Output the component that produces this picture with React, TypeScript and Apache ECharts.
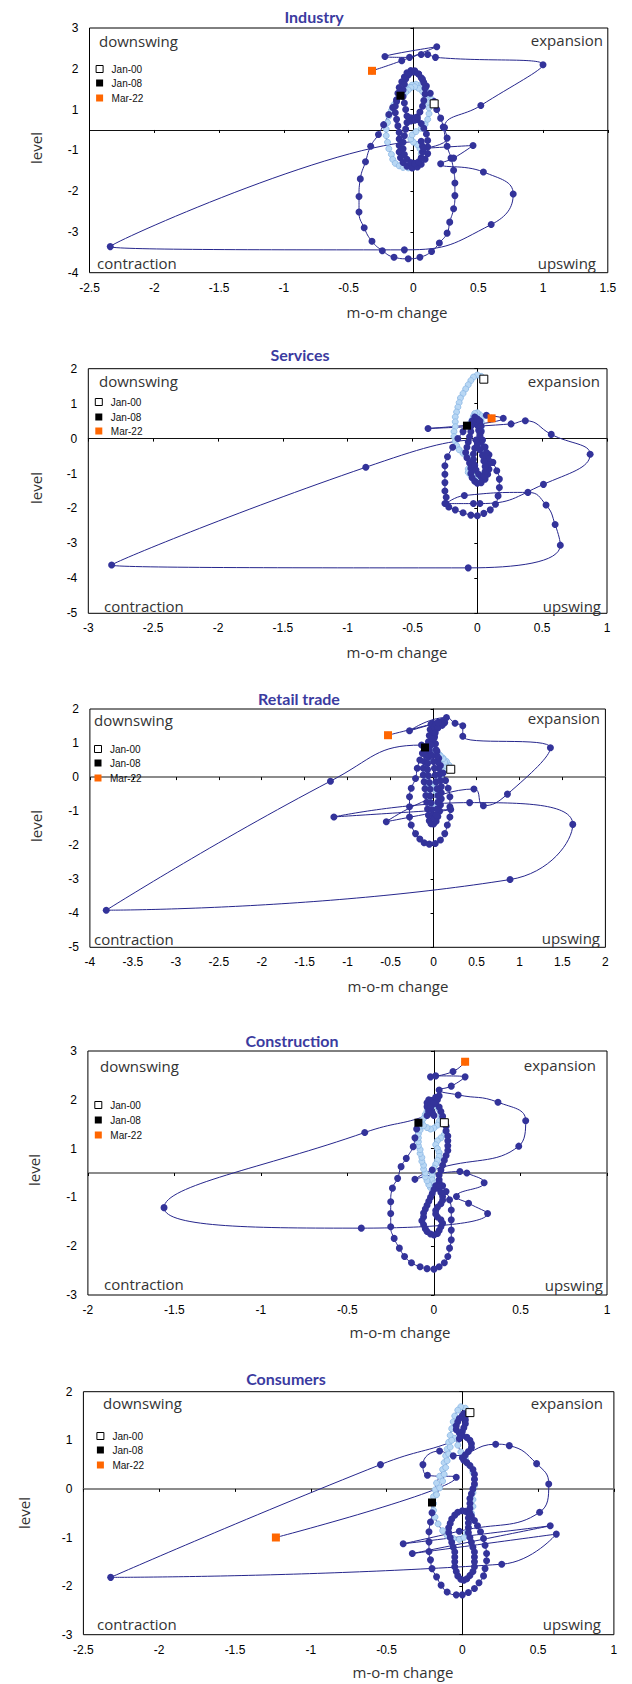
import React, { useEffect, useRef } from 'react';
import * as echarts from 'echarts';

// ---------- DATA (m-o-m change, level) ----------
// Industry
const indLight: number[][] = [
  [0.16,0.64],[0.14,0.75],[0.12,0.86],[0.10,0.96],[0.08,1.04],[0.05,1.10],[0.02,1.12],[-0.01,1.10],[-0.04,1.04],[-0.07,0.96],
  [-0.10,0.86],[-0.13,0.74],[-0.15,0.62],[-0.17,0.48],[-0.19,0.34],[-0.20,0.18],[-0.21,0.02],[-0.21,-0.14],[-0.20,-0.30],[-0.19,-0.46],
  [-0.17,-0.60],[-0.16,-0.72],[-0.14,-0.82],[-0.11,-0.88],[-0.08,-0.92],[-0.04,-0.93],[0.00,-0.92],[0.03,-0.88],[0.05,-0.80],[0.06,-0.70],
  [0.06,-0.58],[0.05,-0.46],[0.03,-0.36],[0.00,-0.30],[-0.02,-0.22],[-0.01,-0.12],[0.02,-0.04],[0.06,0.04],[0.09,0.14],[0.11,0.26],
  [0.12,0.40],[0.12,0.54],[0.11,0.68],[0.09,0.82],[0.07,0.94],[0.04,1.02],[0.01,1.06],[-0.02,1.04],[-0.04,0.98],[-0.06,0.92],[-0.08,0.88]
];
const indDark: number[][] = [
  [-0.10,0.84],[-0.13,0.70],[-0.16,0.55],[-0.19,0.38],[-0.23,0.13],[-0.27,-0.11],[-0.33,-0.40],[-0.37,-0.78],[-0.41,-1.20],[-0.42,-1.63],
  [-0.42,-2.01],[-0.38,-2.40],[-0.32,-2.73],[-0.24,-2.96],[-0.15,-3.12],[-0.04,-3.16],[0.05,-3.12],[0.14,-2.98],[0.20,-2.77],[0.26,-2.53],
  [0.28,-2.26],[0.31,-1.93],[0.32,-1.61],[0.32,-1.30],[0.31,-0.99],[0.29,-0.69],[0.26,-0.40],[0.23,0.07],[0.21,0.29],[0.18,0.50],
  [0.16,0.70],[0.13,0.90],[0.10,1.08],[0.07,1.24],[0.04,1.37],[0.01,1.45],[-0.02,1.46],[-0.05,1.40],[-0.07,1.30],[-0.09,1.18],
  [-0.11,1.04],[-0.12,0.90],[-0.13,0.74],[-0.14,0.58],[-0.14,0.42],[-0.13,0.26],[-0.12,0.10],[-0.11,-0.06],[-0.11,-0.22],[-0.11,-0.38],
  [-0.11,-0.54],[-0.10,-0.68],[-0.08,-0.80],[-0.05,-0.89],[-0.01,-0.93],[0.03,-0.91],[0.06,-0.84],[0.09,-0.72],[0.11,-0.58],[0.11,-0.42],
  [0.11,-0.26],[0.10,-0.10],[0.08,0.04],[0.06,0.16],[0.03,0.26],[0.01,0.30],[-0.02,0.30],[-0.03,0.26],[-0.02,0.22],[0.01,0.24],
  [0.03,0.32],[0.05,0.44],[0.07,0.58],[0.08,0.72],[0.09,0.88],[0.09,1.02],[0.08,1.16],[0.06,1.28],[0.04,1.37],[0.01,1.42],
  [-0.02,1.41],[-0.04,1.35],[-0.06,1.25],[-0.07,1.12],[-0.08,0.98],[-0.08,0.82],[-0.07,0.66],[-0.06,0.50],[-0.05,0.34],[-0.05,0.18],
  [-0.06,0.02],[-0.07,-0.14],[-0.08,-0.30],[-0.08,-0.46],[-0.07,-0.60],[-0.05,-0.72],[-0.02,-0.80],[0.01,-0.82],[0.04,-0.78],[0.06,-0.68],
  [0.07,-0.54],[0.07,-0.40],[0.06,-0.28],
  [-2.34,-2.86],[-0.07,-2.94],[0.60,-2.32],[0.77,-1.57],[0.54,-1.03],[0.21,-0.83],[0.31,-0.69],[0.46,-0.38],[0.08,-0.45],[0.26,-0.20],
  [0.24,0.06],[0.52,0.60],[1.00,1.60],[0.17,1.78],[0.11,1.85],[0.06,1.85],[-0.03,1.78],[-0.22,1.80],[0.18,2.04],[-0.09,1.70],[-0.32,1.45]
];

// Services
const svcLight: number[][] = [
  [0.05,1.70],[0.03,1.78],[0.00,1.82],[-0.03,1.76],[-0.05,1.66],[-0.07,1.54],[-0.09,1.42],[-0.11,1.29],[-0.13,1.16],[-0.14,1.03],
  [-0.15,0.90],[-0.16,0.76],[-0.17,0.62],[-0.17,0.48],[-0.17,0.34],[-0.18,0.20],[-0.18,0.06],[-0.17,-0.08],[-0.16,-0.20],[-0.14,-0.32],
  [-0.11,-0.42],[-0.08,-0.50],[-0.05,-0.57],[-0.04,-0.66],[-0.05,-0.76],[-0.07,-0.87],[-0.07,-0.97],[-0.05,-1.05],[-0.02,-1.09],[0.01,-1.09],
  [0.04,-1.04],[0.06,-0.95],[0.08,-0.84],[0.08,-0.72],[0.08,-0.60],[0.07,-0.48],[0.06,-0.36],[0.04,-0.24],[0.03,-0.12],[0.02,0.00],
  [0.02,0.12],[0.03,0.24],[0.03,0.36],[0.03,0.48],[0.03,0.58],[0.02,0.68],[0.00,0.74],[-0.02,0.72],[-0.03,0.64],[-0.04,0.54],[-0.05,0.46]
];
const svcDark: number[][] = [
  [-0.08,0.37],[-0.11,0.20],[-0.15,0.00],[-0.19,-0.25],[-0.23,-0.52],[-0.25,-0.78],[-0.25,-1.02],[-0.25,-1.26],[-0.25,-1.50],[-0.24,-1.68],
  [-0.25,-1.86],[-0.22,-1.96],[-0.17,-2.04],[-0.11,-2.12],[-0.05,-2.19],[0.00,-2.21],[0.05,-2.14],[0.10,-2.04],[0.14,-1.88],[0.16,-1.64],
  [0.17,-1.40],[0.17,-1.16],[0.15,-0.92],[0.12,-0.68],[0.09,-0.46],[0.06,-0.24],[0.04,-0.04],[0.02,0.16],[0.01,0.36],[0.00,0.55],
  [-0.02,0.62],[-0.04,0.50],[-0.05,0.35],[-0.05,0.20],[-0.06,0.05],[-0.07,-0.10],[-0.08,-0.25],[-0.09,-0.40],[-0.08,-0.55],[-0.06,-0.70],
  [-0.05,-0.85],[-0.05,-1.00],[-0.04,-1.12],[-0.02,-1.22],[0.00,-1.28],[0.03,-1.26],[0.06,-1.16],[0.08,-1.02],[0.09,-0.88],[0.09,-0.72],
  [0.08,-0.56],[0.07,-0.40],[0.05,-0.24],[0.03,-0.08],[0.02,0.08],[0.01,0.24],[0.00,0.38],[-0.01,0.50],[0.00,0.56],[0.02,0.50],
  [0.03,0.36],[0.03,0.20],[0.02,0.04],[0.00,-0.12],[-0.02,-0.28],[-0.03,-0.44],[-0.03,-0.60],[-0.02,-0.76],[-0.01,-0.90],[0.01,-1.02],
  [0.03,-1.10],[0.05,-1.06],[0.06,-0.94],[0.06,-0.80],[0.05,-0.64],[0.04,-0.48],[0.02,-0.32],[0.00,-0.18],[-0.01,-0.04],
  [-0.86,-0.82],[-2.82,-3.62],[-0.07,-3.70],[0.64,-3.05],[0.60,-2.46],[0.53,-1.90],[0.39,-1.54],[-0.10,-1.63],[-0.24,-1.86],[-0.03,-1.86],
  [0.02,-1.86],[0.51,-1.31],[0.87,-0.45],[0.57,0.12],[0.37,0.51],[0.26,0.42],[-0.38,0.29],[0.20,0.58],[0.07,0.67],[0.11,0.58]
];

// Retail trade
const rtlLight: number[][] = [
  [0.20,0.23],[0.18,0.35],[0.15,0.46],[0.11,0.56],[0.07,0.65],[0.03,0.72],[0.00,0.76],[-0.03,0.72],[-0.05,0.62],[-0.07,0.50],
  [-0.08,0.38],[-0.09,0.26],[-0.09,0.14],[-0.09,0.02],[-0.09,-0.10],[-0.08,-0.22],[-0.08,-0.34],[-0.07,-0.46],[-0.06,-0.58],[-0.05,-0.70],
  [-0.03,-0.80],[0.00,-0.88],[0.03,-0.86],[0.05,-0.78],[0.06,-0.66],[0.05,-0.54],[0.03,-0.44],[0.01,-0.36],[0.00,-0.26],[0.02,-0.16],
  [0.05,-0.06],[0.08,0.04],[0.11,0.14],[0.13,0.24],[0.14,0.34],[0.13,0.44],[0.11,0.54],[0.08,0.62],[0.04,0.70],[0.01,0.78],
  [-0.02,0.84],[-0.05,0.88],[-0.08,0.88]
];
const rtlDark: number[][] = [
  [-0.10,0.87],[-0.13,0.70],[-0.16,0.50],[-0.19,0.26],[-0.21,-0.04],[-0.26,-0.33],[-0.28,-0.58],[-0.28,-0.87],[-0.28,-1.17],[-0.26,-1.41],
  [-0.21,-1.66],[-0.16,-1.82],[-0.11,-1.93],[-0.05,-1.97],[0.02,-1.95],[0.08,-1.85],[0.13,-1.66],[0.16,-1.41],[0.19,-1.17],[0.19,-0.87],
  [0.19,-0.58],[0.17,-0.33],[0.14,-0.10],[0.11,0.12],[0.08,0.34],[0.06,0.55],[0.04,0.76],[0.02,0.98],[0.01,1.20],[0.00,1.42],
  [-0.01,1.58],[-0.03,1.55],[-0.04,1.40],[-0.05,1.22],[-0.06,1.04],[-0.08,0.86],[-0.10,0.66],[-0.11,0.46],[-0.12,0.26],[-0.12,0.06],
  [-0.11,-0.14],[-0.10,-0.34],[-0.09,-0.54],[-0.08,-0.74],[-0.07,-0.94],[-0.06,-1.12],[-0.05,-1.28],[-0.03,-1.37],[0.00,-1.38],[0.03,-1.30],
  [0.05,-1.16],[0.07,-1.00],[0.08,-0.82],[0.09,-0.64],[0.09,-0.46],[0.09,-0.28],[0.08,-0.10],[0.07,0.08],[0.06,0.26],[0.05,0.44],
  [0.04,0.62],[0.03,0.80],[0.02,0.98],[0.01,1.16],[0.00,1.32],[0.01,1.46],[0.03,1.56],[0.06,1.62],[0.10,1.64],[0.13,1.60],
  [0.10,1.52],[0.05,1.44],[0.02,1.30],[-0.01,1.12],[-0.03,0.94],[-0.05,0.76],[-0.06,0.58],[-0.07,0.40],[-0.07,0.22],[-0.06,0.04],
  [-0.05,-0.16],[-0.04,-0.36],[-0.04,-0.56],[-0.03,-0.76],[-0.02,-0.96],[-0.01,-1.12],[0.01,-1.20],[0.03,-1.12],[0.04,-0.94],[0.05,-0.74],
  [0.05,-0.54],[0.04,-0.34],[0.03,-0.14],[0.02,0.06],[0.01,0.26],[0.00,0.46],[-0.02,0.64],[-0.05,0.80],[-0.09,0.90],[-0.14,0.94],
  [-1.20,-0.12],[-3.81,-3.91],[0.89,-3.01],[1.62,-1.39],[0.42,-0.75],[-1.16,-1.17],[0.20,-0.95],[-0.55,-1.31],[0.47,-0.35],[0.58,-0.84],
  [0.86,-0.50],[1.36,0.86],[0.34,1.20],[0.34,1.51],[0.25,1.58],[0.15,1.75],[-0.28,1.36],[0.05,1.60],[-0.53,1.23]
];

// Construction
const conLight: number[][] = [
  [0.06,1.03],[0.07,0.95],[0.07,0.87],[0.06,0.79],[0.04,0.72],[0.02,0.66],[0.01,0.58],[0.02,0.50],[0.03,0.42],[0.03,0.34],
  [0.02,0.26],[0.01,0.18],[0.00,0.10],[-0.01,0.02],[-0.01,-0.06],[-0.01,-0.14],[0.00,-0.22],[0.00,-0.29],[-0.02,-0.30],[-0.03,-0.24],
  [-0.04,-0.16],[-0.05,-0.08],[-0.05,0.00],[-0.06,0.08],[-0.06,0.16],[-0.07,0.24],[-0.07,0.32],[-0.08,0.40],[-0.08,0.48],[-0.09,0.56],
  [-0.09,0.64],[-0.09,0.72],[-0.09,0.80],[-0.08,0.88],[-0.08,0.96],[-0.07,1.04],[-0.06,1.12],[-0.05,1.20],[-0.04,1.27],[-0.02,1.33],
  [0.00,1.37],[0.02,1.36],[0.03,1.30],[0.04,1.22],[0.04,1.14],[0.03,1.06],[0.02,0.98],[0.00,0.92],[-0.02,0.90],[-0.04,0.93],
  [-0.06,0.97],[-0.08,1.01]
];
const conDark: number[][] = [
  [-0.09,1.03],[-0.10,0.90],[-0.11,0.72],[-0.12,0.54],[-0.16,0.30],[-0.19,0.13],[-0.21,-0.11],[-0.24,-0.31],[-0.25,-0.59],[-0.25,-0.83],
  [-0.25,-1.10],[-0.23,-1.34],[-0.20,-1.54],[-0.17,-1.71],[-0.13,-1.84],[-0.08,-1.92],[-0.04,-1.96],[0.00,-1.97],[0.03,-1.92],[0.06,-1.84],
  [0.08,-1.71],[0.09,-1.54],[0.10,-1.37],[0.10,-1.17],[0.10,-0.96],[0.10,-0.76],[0.09,-0.55],[0.07,-0.38],[0.05,-0.26],[0.03,-0.20],
  [0.01,-0.26],[0.00,-0.34],[-0.01,-0.42],[-0.02,-0.50],[-0.03,-0.58],[-0.04,-0.66],[-0.05,-0.74],[-0.06,-0.82],[-0.06,-0.90],[-0.07,-0.98],
  [-0.06,-1.06],[-0.05,-1.14],[-0.04,-1.20],[-0.02,-1.25],[0.00,-1.27],[0.02,-1.24],[0.03,-1.18],[0.04,-1.10],[0.05,-1.03],[0.04,-0.96],
  [0.02,-0.90],[0.01,-0.84],[0.01,-0.77],[0.02,-0.70],[0.04,-0.63],[0.05,-0.56],[0.05,-0.48],[0.04,-0.40],[0.03,-0.32],[0.03,-0.24],
  [0.03,-0.14],[0.03,-0.04],[0.04,0.06],[0.05,0.16],[0.06,0.26],[0.07,0.36],[0.08,0.46],[0.08,0.56],[0.08,0.66],[0.08,0.76],
  [0.07,0.86],[0.07,0.96],[0.06,1.06],[0.05,1.16],[0.04,1.26],[0.03,1.35],[0.01,1.43],[-0.01,1.49],[-0.03,1.50],[-0.04,1.44],
  [-0.04,1.36],[-0.03,1.28],[-0.01,1.22],[0.00,1.18],[-0.01,1.24],[-0.02,1.32],[-0.02,1.40],[-0.01,1.48],[0.01,1.55],[0.03,1.58],
  [0.02,1.50],[0.00,1.42],[-0.02,1.34],[-0.03,1.26],[-0.04,1.18],
  [-0.40,0.83],[-1.56,-0.71],[-0.42,-1.13],[0.31,-0.83],[0.20,-0.62],[0.13,-0.48],[0.29,-0.20],[0.19,0.00],[0.15,0.03],[-0.11,-0.13],
  [-0.01,0.06],[0.49,0.55],[0.53,1.07],[0.37,1.45],[0.14,1.60],[0.03,1.70],[0.10,1.78],[0.18,1.97],[0.01,1.99],[-0.02,1.97],
  [0.11,2.08],[0.18,2.28]
];

// Consumers
const cnsLight: number[][] = [
  [0.05,1.57],[0.02,1.66],[-0.01,1.69],[-0.03,1.62],[-0.05,1.50],[-0.06,1.38],[-0.07,1.24],[-0.08,1.10],[-0.09,0.96],[-0.10,0.82],
  [-0.11,0.68],[-0.12,0.54],[-0.13,0.40],[-0.15,0.26],[-0.17,0.12],[-0.18,-0.02],[-0.19,-0.16],[-0.19,-0.30],[-0.19,-0.44],[-0.18,-0.58],
  [-0.16,-0.72],[-0.13,-0.86],[-0.10,-0.96],[-0.06,-1.02],[-0.02,-1.04],[0.01,-1.00],[0.03,-0.90],[0.04,-0.78],[0.05,-0.64],[0.06,-0.50],
  [0.07,-0.36],[0.07,-0.22],[0.07,-0.08],[0.08,0.06],[0.08,0.20],[0.07,0.34],[0.05,0.48],[0.02,0.62],[-0.01,0.76],[-0.03,0.90],
  [-0.05,1.04],[-0.07,1.00],[-0.08,0.86],[-0.09,0.72],[-0.10,0.58],[-0.11,0.44],[-0.12,0.30],[-0.13,0.16],[-0.15,0.02],[-0.17,-0.12]
];
const cnsDark: number[][] = [
  [-0.20,-0.28],[-0.20,-0.49],[-0.21,-0.68],[-0.22,-0.88],[-0.22,-1.09],[-0.22,-1.29],[-0.21,-1.46],[-0.20,-1.64],[-0.17,-1.81],[-0.14,-1.98],
  [-0.10,-2.12],[-0.04,-2.18],[0.00,-2.18],[0.04,-2.13],[0.08,-2.05],[0.11,-1.93],[0.14,-1.79],[0.15,-1.64],[0.16,-1.48],[0.16,-1.33],
  [0.15,-1.16],[0.14,-1.02],[0.12,-0.88],[0.10,-0.76],[0.08,-0.65],[0.06,-0.56],[0.04,-0.50],[0.02,-0.46],[0.00,-0.45],[-0.03,-0.48],
  [-0.05,-0.54],[-0.07,-0.62],[-0.08,-0.71],[-0.09,-0.80],[-0.09,-0.90],[-0.08,-1.00],[-0.07,-1.10],[-0.06,-1.20],[-0.05,-1.30],[-0.05,-1.40],
  [-0.05,-1.50],[-0.05,-1.60],[-0.04,-1.70],[-0.03,-1.79],[-0.01,-1.86],[0.01,-1.88],[0.03,-1.85],[0.05,-1.78],[0.07,-1.70],[0.08,-1.60],
  [0.08,-1.50],[0.08,-1.40],[0.08,-1.30],[0.07,-1.20],[0.06,-1.10],[0.05,-1.00],[0.04,-0.90],[0.04,-0.80],[0.04,-0.70],[0.04,-0.60],
  [0.05,-0.50],[0.05,-0.40],[0.05,-0.30],[0.05,-0.20],[0.06,-0.10],[0.07,0.00],[0.08,0.10],[0.08,0.20],[0.08,0.30],[0.07,0.40],
  [0.05,0.48],[0.03,0.54],[0.01,0.59],[0.00,0.64],[0.02,0.70],[0.04,0.77],[0.06,0.85],[0.06,0.93],[0.05,1.00],[0.03,1.06],
  [0.00,1.10],[-0.02,1.15],[-0.04,1.22],[-0.04,1.30],[-0.03,1.38],[-0.02,1.45],[0.00,1.51],[0.01,1.55],[0.02,1.50],[0.02,1.42],
  [0.02,1.34],[0.01,1.26],[0.00,1.18],[-0.01,1.10],[-0.02,1.03],
  [-0.54,0.50],[-2.32,-1.82],[0.26,-1.55],[0.62,-0.93],[-0.33,-1.33],[0.58,-0.76],[-0.39,-1.13],[-0.02,-0.87],[0.51,-0.48],[0.57,0.10],
  [0.49,0.52],[0.31,0.89],[0.22,0.92],[-0.06,0.68],[-0.15,0.78],[-0.26,0.50],[-0.23,0.28],[-0.04,0.24],[-1.23,-1.00]
];

const titles = ['Industry', 'Services', 'Retail trade', 'Construction', 'Consumers'];
const quadrantLabels = ['downswing', 'expansion', 'contraction', 'upswing'];
const legendLabels = ['Jan-00', 'Jan-08', 'Mar-22'];
const xAxisTitle = 'm-o-m change';
const yAxisTitle = 'level';

// ---------- LAYOUT ----------
type Panel = {
  light: number[][]; dark: number[][];
  xMin: number; xMax: number; yMin: number; yMax: number;
  grid: number[]; title: number[]; xName: number[]; yName: number[];
  q: number[][]; leg: number[];
};
const panels: Panel[] = [
  { light: indLight, dark: indDark, xMin: -2.5, xMax: 1.5, yMin: -3.5, yMax: 2.5,
    grid: [89.5, 28, 518.3, 244.7], title: [314, 16], xName: [397, 312], yName: [36, 148],
    q: [[99, 41], [603, 40], [97, 263], [596, 263]], leg: [99.6, 69, 83, 98] },
  { light: svcLight, dark: svcDark, xMin: -3, xMax: 1, yMin: -5, yMax: 2,
    grid: [88.3, 368.7, 518.7, 244.6], title: [300, 354], xName: [397, 652], yName: [36, 488],
    q: [[99, 381], [600, 381], [104, 606], [601, 606]], leg: [98.8, 402, 417, 431] },
  { light: rtlLight, dark: rtlDark, xMin: -4, xMax: 2, yMin: -5, yMax: 2,
    grid: [89.9, 709, 515.5, 238.3], title: [299, 698], xName: [398, 986], yName: [36, 826],
    q: [[94, 720], [600, 718], [94, 939], [600, 938]], leg: [98, 749, 763, 778] },
  { light: conLight, dark: conDark, xMin: -2, xMax: 1, yMin: -2.5, yMax: 2.5,
    grid: [87.9, 1051, 519.1, 244], title: [292, 1040], xName: [400, 1332], yName: [34, 1170],
    q: [[100, 1066], [596, 1065], [104, 1284], [603, 1285]], leg: [98.3, 1105, 1120, 1135] },
  { light: cnsLight, dark: cnsDark, xMin: -2.5, xMax: 1, yMin: -3, yMax: 2,
    grid: [83.4, 1391.7, 530.5, 243], title: [286, 1378], xName: [403, 1672], yName: [24, 1513],
    q: [[103, 1403], [603, 1403], [97, 1624], [601, 1624]], leg: [100.4, 1436, 1450, 1465] },
];

const DARK = '#33339a';
const LINE = '#26268c';
const LIGHT = '#b8d7f4';
const LIGHT_EDGE = '#8bb7e5';
const TITLE = '#3b3ba0';
const QFONT = '15px "Open Sans"';

function roundLabel(v: number) {
  const r = Math.sign(v) * Math.round(Math.abs(v) + 1e-9);
  return String(r === 0 ? 0 : r);
}

function buildOption() {
  const grid: any[] = [], xAxis: any[] = [], yAxis: any[] = [], series: any[] = [], graphic: any[] = [];
  panels.forEach((p, i) => {
    grid.push({ left: p.grid[0], top: p.grid[1], width: p.grid[2], height: p.grid[3], show: true,
      borderColor: '#000', borderWidth: 1, backgroundColor: 'transparent' });
    const shifted = (p.yMin % 1) !== 0;
    xAxis.push({ gridIndex: i, type: 'value', min: p.xMin, max: p.xMax, interval: 0.5, position: 'bottom',
      axisLine: { show: false, onZero: false }, axisTick: { show: false }, splitLine: { show: false },
      axisLabel: { fontFamily: 'Liberation Sans', fontSize: 12, color: '#000', margin: 9 } });
    xAxis.push({ gridIndex: i, type: 'value', min: p.xMin, max: p.xMax, interval: 0.5, position: 'top',
      axisLine: { show: true, onZero: true, lineStyle: { color: i >= 2 ? '#666' : '#111', width: i >= 2 ? 1.6 : 1 } },
      axisTick: { show: true, inside: true, length: 3, lineStyle: { color: '#000' } },
      axisLabel: { show: false }, splitLine: { show: false } });
    yAxis.push({ gridIndex: i, type: 'value', min: p.yMin, max: p.yMax, interval: 1, position: 'left',
      axisLine: { show: false, onZero: false }, axisTick: { show: false }, splitLine: { show: false },
      axisLabel: { fontFamily: 'Liberation Sans', fontSize: 12, color: '#000', margin: 11,
        formatter: shifted ? (v: number) => roundLabel(v) : (v: number) => String(v) } });
    yAxis.push({ gridIndex: i, type: 'value', min: p.yMin, max: p.yMax, interval: 1, position: 'right',
      axisLine: { show: true, onZero: true, lineStyle: { color: '#000', width: 1 } },
      axisTick: { show: true, inside: true, length: 3, lineStyle: { color: '#000' } },
      axisLabel: { show: false }, splitLine: { show: false } });

    const xi = 2 * i, yi = 2 * i;
    series.push({ type: 'line', xAxisIndex: xi, yAxisIndex: yi, data: p.light.concat(p.dark), smooth: 0.5,
      symbol: 'none', lineStyle: { color: LINE, width: 1 }, silent: true, z: 2 });
    series.push({ type: 'scatter', xAxisIndex: xi, yAxisIndex: yi, data: p.light, symbolSize: 6,
      itemStyle: { color: LIGHT, borderColor: LIGHT_EDGE, borderWidth: 0.8, opacity: 1 }, silent: true, z: 3 });
    series.push({ type: 'scatter', xAxisIndex: xi, yAxisIndex: yi, data: p.dark, symbolSize: 7,
      itemStyle: { color: DARK, opacity: 1 }, silent: true, z: 4 });
    series.push({ type: 'scatter', xAxisIndex: xi, yAxisIndex: yi, data: [p.light[0]], symbol: 'rect', symbolSize: 8,
      itemStyle: { color: '#fff', borderColor: '#000', borderWidth: 1, opacity: 1 }, silent: true, z: 5 });
    series.push({ type: 'scatter', xAxisIndex: xi, yAxisIndex: yi, data: [p.dark[0]], symbol: 'rect', symbolSize: 8,
      itemStyle: { color: '#000', opacity: 1 }, silent: true, z: 5 });
    series.push({ type: 'scatter', xAxisIndex: xi, yAxisIndex: yi, data: [p.dark[p.dark.length - 1]], symbol: 'rect', symbolSize: 8,
      itemStyle: { color: '#ff6600', opacity: 1 }, silent: true, z: 5 });

    // title
    graphic.push({ type: 'text', x: p.title[0], y: p.title[1], z: 10,
      style: { text: titles[i], fill: TITLE, font: 'bold 16px Lato', textAlign: 'center', textVerticalAlign: 'middle', align: 'center', verticalAlign: 'middle' } });
    // axis names
    graphic.push({ type: 'text', x: p.xName[0], y: p.xName[1], z: 10,
      style: { text: xAxisTitle, fill: '#333', font: QFONT, textAlign: 'center', textVerticalAlign: 'middle', align: 'center', verticalAlign: 'middle' } });
    graphic.push({ type: 'text', x: p.yName[0], y: p.yName[1], rotation: Math.PI / 2, z: 10,
      style: { text: yAxisTitle, fill: '#333', font: QFONT, textAlign: 'center', textVerticalAlign: 'middle', align: 'center', verticalAlign: 'middle' } });
    // quadrant labels
    const aligns = ['left', 'right', 'left', 'right'];
    p.q.forEach((pt, k) => {
      graphic.push({ type: 'text', x: pt[0], y: pt[1], z: 10,
        style: { text: quadrantLabels[k], fill: '#333', font: QFONT, textAlign: aligns[k], textVerticalAlign: 'middle', align: aligns[k], verticalAlign: 'middle' } });
    });
    // legend
    const fills = ['#fff', '#000', '#ff6600'];
    const strokes = ['#000', '#000', '#ff6600'];
    legendLabels.forEach((lab, k) => {
      const cx = p.leg[0], cy = p.leg[1 + k];
      graphic.push({ type: 'rect', z: 10, shape: { x: cx - 3.5, y: cy - 3.5, width: 7, height: 7 },
        style: { fill: fills[k], stroke: strokes[k], lineWidth: k === 0 ? 1 : 0 } });
      graphic.push({ type: 'text', x: cx + 12, y: cy, z: 10,
        style: { text: lab, fill: '#111', font: '10px "Liberation Sans"', textAlign: 'left', textVerticalAlign: 'middle', align: 'left', verticalAlign: 'middle' } });
    });
  });
  return { animation: false, backgroundColor: '#fff', grid, xAxis, yAxis, series, graphic };
}

export default function App() {
  const ref = useRef<HTMLDivElement>(null);
  useEffect(() => {
    const chart = echarts.init(ref.current as HTMLDivElement, undefined, { renderer: 'svg' });
    chart.setOption(buildOption() as any);
    return () => chart.dispose();
  }, []);
  return <div ref={ref} style={{ position: 'absolute', left: 0, top: 0, width: 632, height: 1684, background: '#fff' }} />;
}
